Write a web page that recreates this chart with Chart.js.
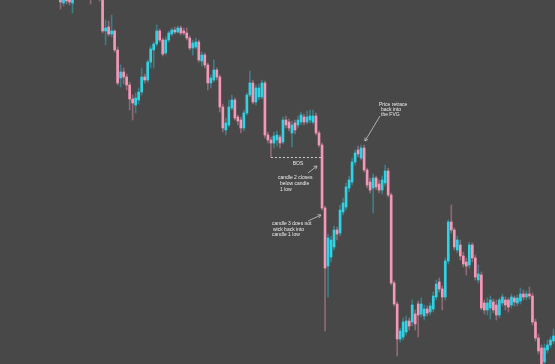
<!DOCTYPE html>
<html><head><meta charset="utf-8">
<script src="https://cdn.jsdelivr.net/npm/chart.js@4.4.0/dist/chart.umd.min.js"></script>
<style>html,body{margin:0;padding:0;background:#484848;}#wrap{width:555px;height:364px;position:relative;}</style>
</head><body><div id="wrap"><canvas id="c"></canvas></div>
<script>
// OHLC prices (chart points), one entry per candle
const open = [367,361,366,368,361,370,376,382,378,384,
376,370,374,368,365,333,337,330,333,314,
286,292,287,279,265,259,264,272,287,284,
302,314,320,333,324,311,324,330,334,332,
336,333,331,326,316,317,322,303,309,299,
281,284,294,287,257,234,239,256,264,247,
244,236,251,269,281,262,267,267,281,229,
224,221,224,227,222,244,242,231,241,239,
242,247,242,244,242,248,231,219,156,98,
107,117,134,131,152,157,176,182,202,214,
206,216,194,182,176,186,180,174,181,193,
169,81,60,25,27,32,43,42,50,60,
50,48,55,52,55,67,82,75,67,103,
142,134,114,119,108,102,99,119,106,84,
89,61,54,56,62,59,49,61,64,64,
59,66,61,63,70,67,70,68,42,26,
16,2,14,19,23];
const high = [370,368,369,370,370,379,386,388,389,387,
378,377,376,372,367,344,343,349,334,317,
299,296,290,282,269,271,276,296,290,304,
318,322,339,335,326,327,333,336,337,338,
338,336,336,328,324,326,324,312,311,301,
289,304,296,289,260,246,264,269,266,249,
247,254,271,293,284,279,280,284,283,232,
227,232,233,229,247,248,245,243,244,248,
252,250,253,254,254,251,233,221,158,130,
128,138,137,159,166,181,188,206,214,218,
219,219,196,186,190,188,184,188,199,196,
171,83,62,36,46,48,46,64,54,63,
66,59,58,61,72,84,86,78,106,144,
159,136,128,124,112,106,122,121,109,99,
92,64,66,68,65,64,66,70,67,66,
70,68,69,76,74,73,77,71,45,30,
19,20,24,27,35];
const low = [355,358,360,359,351,367,373,374,375,372,
360,366,365,363,331,319,328,327,312,279,
277,280,274,254,244,251,260,269,281,282,
296,296,318,322,308,309,322,328,330,331,
329,329,324,314,309,315,302,298,296,274,
276,282,284,252,232,229,237,254,244,239,
231,233,249,267,260,259,264,265,226,221,
207,216,218,216,220,236,233,217,230,236,
239,239,240,241,240,229,217,154,33,67,
102,114,124,128,149,154,172,179,199,207,
204,192,176,171,151,174,171,170,178,167,
79,58,8,22,24,29,34,38,34,27,
47,44,48,49,52,64,72,54,64,100,
131,114,111,104,97,89,96,102,84,81,
54,50,49,45,51,44,46,58,54,52,
56,58,58,60,64,64,65,39,23,10,
-4,-2,11,16,20];
const close = [362,365,363,362,366,376,382,378,384,376,
370,374,368,365,333,336,330,333,314,281,
292,287,279,265,261,266,272,287,284,302,
315,320,333,324,310,324,331,334,332,336,
331,331,326,316,321,322,304,309,299,281,
286,294,287,257,236,241,257,264,246,243,
236,251,269,281,262,276,276,281,229,224,
221,228,229,221,244,239,236,239,234,244,
249,242,247,248,248,231,219,156,96,126,
124,134,130,154,161,177,184,202,211,210,
216,194,179,174,186,177,174,184,193,169,
81,60,25,33,42,43,38,59,40,49,
60,55,51,58,68,80,75,67,103,142,
134,117,124,108,100,98,119,106,87,90,
56,54,61,64,54,49,64,67,59,57,
67,62,66,70,67,70,68,42,26,13,
0,16,19,24,28];
const labels = open.map((_, i) => 'C' + (i + 1));

const BOS_CANDLE = 70;   // candle 1 (its low defines BOS)
const BOS_END = 87;      // candle 2

const UP = '#2fd3e6', DOWN = '#f597b6';
const UP_WICK = 'rgba(47,200,220,0.42)', DOWN_WICK = 'rgba(240,150,180,0.42)';
const isUp = open.map((o, i) => close[i] >= o);

const notesPlugin = {
  id: 'notes',
  afterDatasetsDraw(chart) {
    const {ctx, scales: {x, y}} = chart;
    ctx.save();
    // BOS dashed line
    const yb = Math.round(y.getPixelForValue(low[BOS_CANDLE])) + 0.5;
    ctx.strokeStyle = '#cfcfcf';
    ctx.lineWidth = 1;
    ctx.setLineDash([2, 2]);
    ctx.beginPath();
    ctx.moveTo(x.getPixelForValue(BOS_CANDLE), yb);
    ctx.lineTo(x.getPixelForValue(BOS_END), yb);
    ctx.stroke();
    ctx.setLineDash([]);

    ctx.fillStyle = '#ececec';
    ctx.font = '5px "Liberation Sans", Arial, sans-serif';
    ctx.textBaseline = 'middle';
    ctx.textAlign = 'center';
    ctx.fillText('BOS', 298, yb + 6);

    ctx.textAlign = 'left';
    const block = (lines, x0, y0, lh) => lines.forEach((t, k) => ctx.fillText(t[0], x0 + t[1], y0 + k * lh));
    block([['candle 2 closes', 0], ['below candle', 2], ['1 low', 2]], 278, 178, 6);
    block([['candle 3 does not', 0], ['wick back into', 1], ['candle 1 low', 0]], 272, 224, 5.5);
    block([['Price retrace', 0], ['back into', 2], ['the FVG', 2]], 379, 105, 5);

    const arrow = (x1, y1, x2, y2) => {
      ctx.beginPath(); ctx.moveTo(x1, y1); ctx.lineTo(x2, y2); ctx.stroke();
      const a = Math.atan2(y2 - y1, x2 - x1), L = 3.5;
      ctx.beginPath();
      ctx.moveTo(x2 - L * Math.cos(a - 0.55), y2 - L * Math.sin(a - 0.55));
      ctx.lineTo(x2, y2);
      ctx.lineTo(x2 - L * Math.cos(a + 0.55), y2 - L * Math.sin(a + 0.55));
      ctx.stroke();
    };
    ctx.strokeStyle = '#c8c8c8';
    ctx.lineWidth = 0.8;
    arrow(308, 173, 317, 166);
    arrow(308, 221, 321, 215);
    arrow(380, 116, 365, 141);
    ctx.restore();
  }
};

new Chart(document.getElementById('c'), {
  type: 'bar',
  data: {
    labels,
    datasets: [
      {
        label: 'body',
        data: open.map((o, i) => [o, close[i]]),
        backgroundColor: isUp.map(u => u ? UP : DOWN),
        barThickness: 2,
        grouped: false,
        borderWidth: 0,
        order: 0,
        clip: false
      },
      {
        label: 'wick',
        data: low.map((l, i) => [l, high[i]]),
        backgroundColor: isUp.map(u => u ? UP_WICK : DOWN_WICK),
        barThickness: 1,
        grouped: false,
        borderWidth: 0,
        order: 1,
        clip: false
      }
    ]
  },
  options: {
    responsive: true,
    maintainAspectRatio: false,
    animation: false,
    layout: {padding: {left: 59, right: 0, top: 0, bottom: 0}},
    plugins: {legend: {display: false}, tooltip: {enabled: false}},
    scales: {
      x: {display: false, offset: true},
      y: {display: false, min: 0, max: 364}
    }
  },
  plugins: [notesPlugin]
});
</script>
</body></html>
